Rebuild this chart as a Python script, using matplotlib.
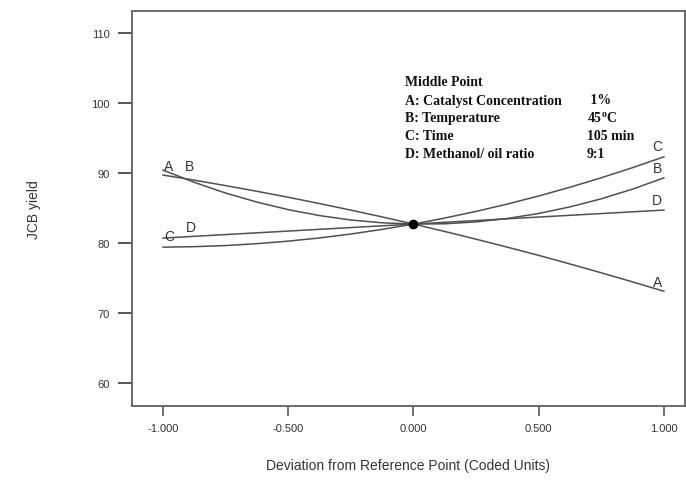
import matplotlib
matplotlib.use("Agg")
import matplotlib.pyplot as plt

# coded deviation from reference point
x = [-1.0, -0.875, -0.75, -0.625, -0.5, -0.375, -0.25, -0.125, 0.0,
     0.125, 0.25, 0.375, 0.5, 0.625, 0.75, 0.875, 1.0]
# JCB yield traces
yield_A = [89.70, 88.97, 88.19, 87.38, 86.53, 85.63, 84.69, 83.72, 82.7,
           81.64, 80.54, 79.40, 78.23, 77.00, 75.74, 74.44, 73.10]
yield_B = [90.40, 88.66, 87.13, 85.84, 84.76, 83.91, 83.28, 82.88, 82.7,
           82.74, 83.01, 83.50, 84.21, 85.15, 86.31, 87.69, 89.30]
yield_C = [79.40, 79.47, 79.63, 79.90, 80.26, 80.72, 81.28, 81.94, 82.7,
           83.56, 84.51, 85.56, 86.71, 87.96, 89.31, 90.76, 92.30]
yield_D = [80.70, 80.95, 81.20, 81.45, 81.70, 81.95, 82.20, 82.45, 82.7,
           82.95, 83.20, 83.45, 83.70, 83.95, 84.20, 84.45, 84.70]
center_x, center_y = 0.0, 82.7

x_ticks = [-1.0, -0.5, 0.0, 0.5, 1.0]
x_ticklabels = ["-1.000", "-0.500", "0.000", "0.500", "1.000"]
y_ticks = [60, 70, 80, 90, 100, 110]

info_names = ["A: Catalyst Concentration", "B: Temperature", "C: Time",
              "D: Methanol/ oil ratio"]
info_values = [" 1%", "45$^\\mathregular{o}$C", "105 min", "9:1"]

sans = ["Liberation Sans", "DejaVu Sans"]
serif = ["Liberation Serif", "DejaVu Serif"]
line_col = "#505050"
text_col = "#333333"

fig = plt.figure(figsize=(6.86, 4.89), dpi=100)
ax = fig.add_axes([0.1924, 0.1677, 0.806, 0.8078])

for ys in (yield_A, yield_B, yield_C, yield_D):
    ax.plot(x, ys, color=line_col, lw=1.1)
ax.plot([center_x], [center_y], "o", color="black", ms=6)

ax.set_xlim(-1.124, 1.084)
ax.set_ylim(56.71, 113.14)
ax.set_xticks(x_ticks)
ax.set_xticklabels(x_ticklabels)
ax.set_yticks(y_ticks)
for sp in ax.spines.values():
    sp.set_color("#6a6a6a")
    sp.set_linewidth(1.4)
ax.tick_params(axis="y", length=10, width=1.4, color="#555555", pad=6,
               labelsize=8, labelcolor=text_col)
ax.tick_params(axis="x", length=7, width=1.2, color="#555555", pad=5,
               labelsize=8, labelcolor=text_col)
for lab in ax.get_xticklabels() + ax.get_yticklabels():
    lab.set_family(sans)

ax.set_xlabel("Deviation from Reference Point (Coded Units)", family=sans,
              fontsize=10, color=text_col, labelpad=18)
ax.set_ylabel("JCB yield", family=sans, fontsize=10, color=text_col,
              labelpad=36)

# factor letters at the line ends
letter_kw = dict(family=sans, fontsize=10, color=text_col, ha="center",
                 va="center")
ax.text(-0.978, 91.0, "A", **letter_kw)
ax.text(-0.894, 91.0, "B", **letter_kw)
ax.text(-0.974, 81.0, "C", **letter_kw)
ax.text(-0.890, 82.3, "D", **letter_kw)
ax.text(0.974, 93.9, "C", **letter_kw)
ax.text(0.974, 90.7, "B", **letter_kw)
ax.text(0.974, 86.1, "D", **letter_kw)
ax.text(0.974, 74.4, "A", **letter_kw)

# middle point box
info_kw = dict(family=serif, fontsize=10, fontweight="bold", color="#111111",
               va="center", transform=fig.transFigure)
fig.text(405 / 686, 1 - 83 / 489, "Middle Point", **info_kw)
for i, (nm, val) in enumerate(zip(info_names, info_values)):
    yy = 1 - (101 + 18 * i) / 489
    fig.text(405 / 686, yy, nm, **info_kw)
    fig.text(587 / 686, yy, val, **info_kw)

fig.savefig("out.png", dpi=100)
